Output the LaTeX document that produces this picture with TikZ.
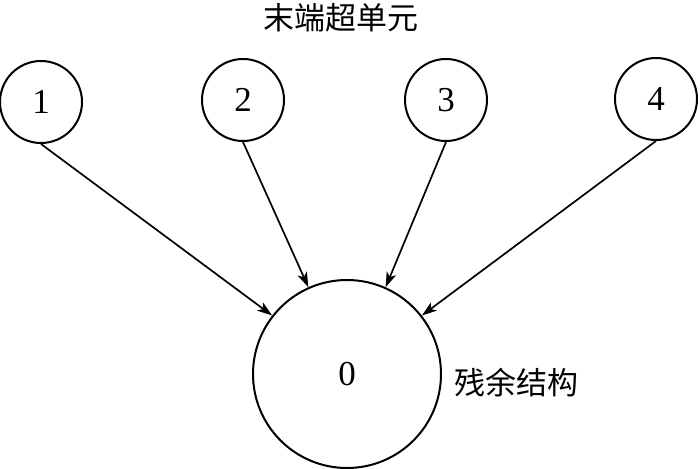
\documentclass[tikz,border=0pt]{standalone}
\usepackage{fontspec}
\setmainfont{Liberation Serif}
\newfontfamily\cjk{Noto Sans CJK SC}
\usetikzlibrary{arrows.meta}
\begin{document}
\begin{tikzpicture}[x=1pt,y=-1pt,
  small/.style={circle,draw,line width=2pt,minimum size=82pt,inner sep=0pt,font=\fontsize{35}{35}\selectfont},
  big/.style={circle,draw,line width=2pt,minimum size=188pt,inner sep=0pt,font=\fontsize{35}{35}\selectfont},
  conn/.style={line width=1.7pt,-{Stealth[length=15pt,width=10pt,inset=4pt]}},
  lbl/.style={font=\cjk\fontsize{31}{31}\selectfont,inner sep=0pt}]
\useasboundingbox (0,0) rectangle (700,468);
\node[small] (c1) at (41,102) {1};
\node[small] (c2) at (243,100) {2};
\node[small] (c3) at (446,100) {3};
\node[small] (c4) at (656,99) {4};
\node[big] (c0) at (347,374) {0};
\node[lbl] (t1) at (341,18) {末端超单元};
\node[lbl] (t2) at (516,383) {残余结构};
\draw[conn] (c1.south) -- (c0.142);
\draw[conn] (c2.south) -- (c0.114);
\draw[conn] (c3.south) -- (c0.66);
\draw[conn] (c4.south) -- (c0.38);
\end{tikzpicture}
\end{document}
